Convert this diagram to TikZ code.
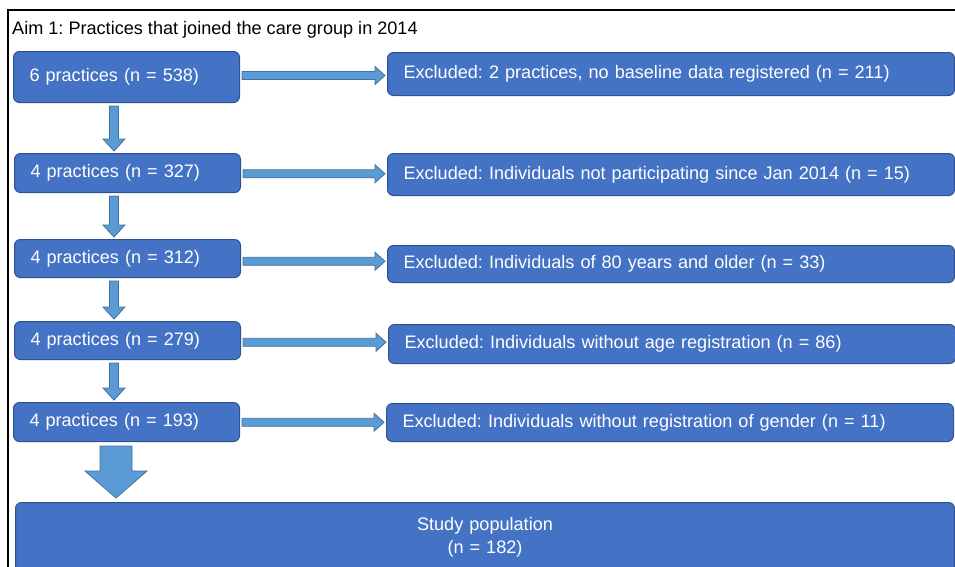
\documentclass[tikz,border=0pt]{standalone}
\usepackage{fontspec}
\setmainfont{Liberation Sans}
\usetikzlibrary{calc}
\definecolor{boxfill}{HTML}{4472C4}
\definecolor{boxline}{HTML}{2F528F}
\definecolor{arrfill}{HTML}{5B9BD5}
\definecolor{arrline}{HTML}{41719C}
\tikzset{
  box/.style={draw=boxline, line width=1pt, fill=boxfill, rounded corners=6pt,
    text=white, anchor=north west, inner xsep=16pt, inner ysep=0pt, align=left},
  lbox/.style={box, text width=194pt, minimum width=226pt},
  rbox/.style={box, text width=535pt, minimum width=567pt},
  arrowshape/.style={draw=arrline, line width=0.8pt, fill=arrfill, line join=miter}
}
\newcommand\HArr[2]{%
  \path[arrowshape] let \p1=(#1.east), \p2=(#2.west), \n1={(\y1+\y2)/2} in
    ({\x1+2pt},{\n1+4pt}) -- ({\x2-12pt},{\n1+4pt}) -- ({\x2-12pt},{\n1+9pt}) --
    ({\x2-2pt},{\n1}) -- ({\x2-12pt},{\n1-9pt}) -- ({\x2-12pt},{\n1-4pt}) --
    ({\x1+2pt},{\n1-4pt}) -- cycle;}
\newcommand\VArr[2]{%
  \path[arrowshape] let \p1=(#1.south), \p2=(#2.north) in
    ({114pt-4.5pt},{\y1-3pt}) -- ({114pt-4.5pt},{\y2+14pt}) -- ({114pt-11pt},{\y2+14pt}) --
    ({114pt},{\y2+2pt}) -- ({114pt+11pt},{\y2+14pt}) -- ({114pt+4.5pt},{\y2+14pt}) --
    ({114pt+4.5pt},{\y1-3pt}) -- cycle;}
\begin{document}
\frenchspacing
\begin{tikzpicture}[x=1pt,y=-1pt,font=\fontsize{18.1}{23}\selectfont\frenchspacing]
\useasboundingbox (0,0) rectangle (955,566);
\clip (0,0) rectangle (955,566);
\draw[line width=2pt] (8,580) -- (8,10) -- (960,10);
\node[anchor=west, inner sep=0pt] (title) at (12,30) {Aim 1: Practices that joined the care group in 2014};

\node[lbox, minimum height=51pt] (L1) at (13,51) {6 practices (n = 538)};
\node[rbox, minimum height=43pt] (R1) at (387,52) {Excluded: 2 practices, no baseline data registered (n = 211)};
\node[lbox, minimum height=39pt] (L2) at (14,153) {4 practices (n = 327)};
\node[rbox, minimum height=42pt] (R2) at (387,153) {Excluded: Individuals not participating since Jan 2014 (n = 15)};
\node[lbox, minimum height=38pt] (L3) at (14,239) {4 practices (n = 312)};
\node[rbox, minimum height=37pt] (R3) at (387,245) {Excluded: Individuals of 80 years and older (n = 33)};
\node[lbox, minimum height=38pt] (L4) at (14,321) {4 practices (n = 279)};
\node[rbox, minimum height=39pt] (R4) at (388,324) {Excluded: Individuals without age registration (n = 86)};
\node[lbox, minimum height=39pt] (L5) at (13,402) {4 practices (n = 193)};
\node[rbox, minimum height=38pt] (R5) at (386,403) {Excluded: Individuals without registration of gender (n = 11)};
\node[box, align=center, text width=907pt, minimum width=939pt, minimum height=70pt] (S) at (15,502)
  {Study population\\(n = 182)};

\HArr{L1}{R1}
\HArr{L2}{R2}
\HArr{L3}{R3}
\HArr{L4}{R4}
\HArr{L5}{R5}
\VArr{L1}{L2}
\VArr{L2}{L3}
\VArr{L3}{L4}
\VArr{L4}{L5}
\path[arrowshape] let \p1=(L5.south), \p2=(S.north) in
    ({116pt-16pt},{\y1-4pt}) -- ({116pt-16pt},{\y2+31pt}) -- ({116pt-31pt},{\y2+31pt}) --
    ({116pt},{\y2+4pt}) -- ({116pt+31pt},{\y2+31pt}) -- ({116pt+16pt},{\y2+31pt}) --
    ({116pt+16pt},{\y1-4pt}) -- cycle;
\end{tikzpicture}
\end{document}
